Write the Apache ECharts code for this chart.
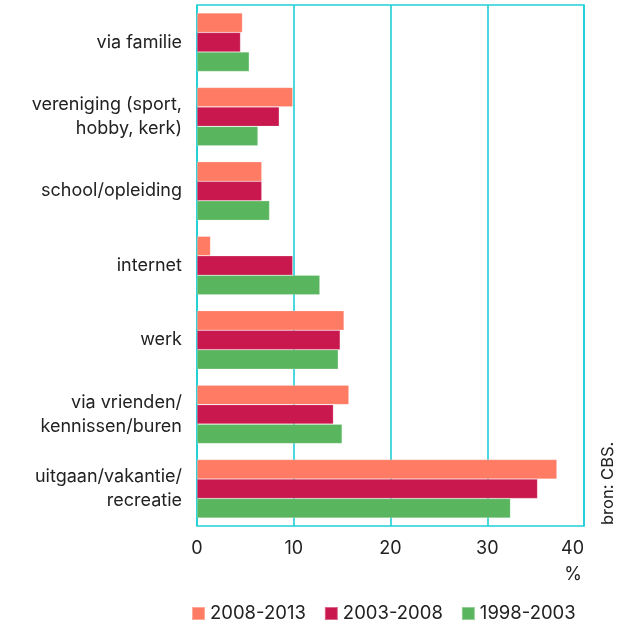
<!DOCTYPE html>
<html>
<head>
<meta charset="utf-8">
<script src="https://cdn.jsdelivr.net/npm/echarts@6/dist/echarts.min.js"></script>
<style>
html,body{margin:0;padding:0;background:#fff;}
#chart{width:620px;height:629px;}
</style>
</head>
<body>
<div id="chart"></div>
<script>
const categories = [
  "via familie",
  "vereniging (sport,\nhobby, kerk)",
  "school/opleiding",
  "internet",
  "werk",
  "via vrienden/\nkennissen/buren",
  "uitgaan/vakantie/\nrecreatie"
];
const seriesNames = ["2008-2013", "2003-2008", "1998-2003"];
const values2008_2013 = [4.7, 9.9, 6.7, 1.4, 15.2, 15.7, 37.2];
const values2003_2008 = [4.5, 8.5, 6.7, 9.9, 14.8, 14.1, 35.2];
const values1998_2003 = [5.4, 6.3, 7.5, 12.7, 14.6, 15.0, 32.4];
const xTicks = [0, 10, 20, 30, 40];
const colors = ["#ff7b63", "#c8184e", "#59b55e"];

const chart = echarts.init(document.getElementById('chart'));
const FONT = 'Inter';
const mk = (name, data, color) => ({
  name: name,
  type: 'bar',
  data: data,
  barWidth: 19.5,
  barGap: '0%',
  itemStyle: {color: color, borderColor: 'rgba(255,255,255,0.35)', borderWidth: 0.6},
  emphasis: {disabled: true},
  animation: false
});
chart.setOption({
  animation: false,
  grid: {
    left: 197, right: 36, top: 5, bottom: 103,
    show: true, borderColor: '#1ecfd6', borderWidth: 1.6, containLabel: false
  },
  xAxis: {
    type: 'value',
    min: xTicks[0], max: xTicks[xTicks.length - 1], interval: 10,
    axisLine: {show: false},
    axisTick: {show: false},
    splitLine: {show: true, lineStyle: {color: '#1ecfd6', width: 1.6}},
    axisLabel: {
      color: '#222', fontFamily: FONT, fontSize: 18, margin: 14,
      alignMaxLabel: 'right',
      formatter: v => xTicks.indexOf(v) >= 0 ? String(v) : ''
    }
  },
  yAxis: {
    type: 'category',
    inverse: true,
    data: categories,
    axisLine: {show: false},
    axisTick: {show: false},
    axisLabel: {
      color: '#222', fontFamily: FONT, fontSize: 18, lineHeight: 24,
      margin: 15, align: 'right'
    }
  },
  legend: {
    bottom: 1,
    left: 186,
    itemWidth: 13, itemHeight: 13, itemGap: 18,
    icon: 'rect',
    textStyle: {color: '#222', fontFamily: FONT, fontSize: 18.5},
    data: seriesNames
  },
  graphic: [
    {
      type: 'text', right: 38, top: 566,
      style: {text: '%', fill: '#222', font: '18px Inter'}
    },
    {
      type: 'text', x: 600, y: 525, rotation: Math.PI / 2,
      style: {text: 'bron: CBS.', fill: '#222', font: '16.5px Inter', textAlign: 'left', textVerticalAlign: 'top'}
    }
  ],
  series: [
    mk(seriesNames[0], values2008_2013, colors[0]),
    mk(seriesNames[1], values2003_2008, colors[1]),
    mk(seriesNames[2], values1998_2003, colors[2])
  ]
});
</script>
</body>
</html>
